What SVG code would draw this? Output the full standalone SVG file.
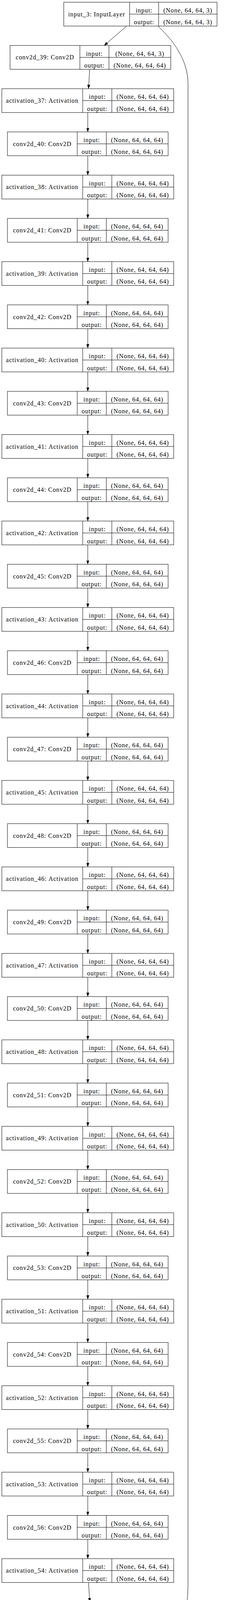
<svg xmlns="http://www.w3.org/2000/svg" width="605" height="4279" viewBox="0 0 605 4279">
<style>
.box{fill:#fff;stroke:#000;stroke-width:1}
.div{fill:none;stroke:#000;stroke-width:1}
text{font-family:"Liberation Serif","Times New Roman",serif;font-size:16px;letter-spacing:0.95px;text-anchor:middle;fill:#000}
.edge{fill:none;stroke:#000;stroke-width:1;marker-end:url(#arr)}
</style>
<defs>
<marker id="arr" markerUnits="userSpaceOnUse" markerWidth="10" markerHeight="7" viewBox="0 0 10 7" refX="0" refY="3.5" orient="auto">
<path d="M0,0L10,3.5L0,7z" fill="#000" stroke="#000" stroke-width="0.5"/>
</marker>
</defs>
<rect width="605" height="4279" fill="#fff"/>
<g id="edges">
<path class="edge" d="M324.7,66.7L274.7,109.9"/>
<path class="edge" d="M229.9,177.4L227.5,217.1"/>
<path class="edge" d="M225,288.1V327.7"/>
<path class="edge" d="M225,398.7V438.4"/>
<path class="edge" d="M225,509.4V549.1"/>
<path class="edge" d="M225,620.1V659.8"/>
<path class="edge" d="M225,730.8V770.5"/>
<path class="edge" d="M225,841.5V881.1"/>
<path class="edge" d="M225,952.1V991.8"/>
<path class="edge" d="M225,1062.8V1102.5"/>
<path class="edge" d="M225,1173.5V1213.2"/>
<path class="edge" d="M225,1284.2V1323.9"/>
<path class="edge" d="M225,1394.9V1434.5"/>
<path class="edge" d="M225,1505.5V1545.2"/>
<path class="edge" d="M225,1616.2V1655.9"/>
<path class="edge" d="M225,1726.9V1766.6"/>
<path class="edge" d="M225,1837.6V1877.3"/>
<path class="edge" d="M225,1948.3V1987.9"/>
<path class="edge" d="M225,2058.9V2098.6"/>
<path class="edge" d="M225,2169.6V2209.3"/>
<path class="edge" d="M225,2280.3V2320"/>
<path class="edge" d="M225,2391V2430.7"/>
<path class="edge" d="M225,2501.7V2541.3"/>
<path class="edge" d="M225,2612.3V2652"/>
<path class="edge" d="M225,2723V2762.7"/>
<path class="edge" d="M225,2833.7V2873.4"/>
<path class="edge" d="M225,2944.4V2984.1"/>
<path class="edge" d="M225,3055.1V3094.7"/>
<path class="edge" d="M225,3165.7V3205.4"/>
<path class="edge" d="M225,3276.4V3316.1"/>
<path class="edge" d="M225,3387.1V3426.8"/>
<path class="edge" d="M225,3497.8V3537.5"/>
<path class="edge" d="M225,3608.5V3648.1"/>
<path class="edge" d="M225,3719.1V3758.8"/>
<path class="edge" d="M225,3829.8V3869.5"/>
<path class="edge" d="M225,3940.5V3980.2"/>
<path class="edge" d="M226.9,4051.2L229.5,4090.9"/>
<path class="edge" d="M266.6,4161.9L315.3,4204.9"/>
<path class="edge" d="M405,66.7C440,100 482,150 482,215L482,4050C482,4140 465,4175 411.5,4204.5"/>
</g>
<g id="input_3" transform="translate(163.5,5.7)">
<rect class="box" width="392.8" height="61"/>
<path class="div" d="M168.8,0V61M243.2,0V61M168.8,30.5H392.8"/>
<text x="84.4" y="36">input_3: InputLayer</text>
<text x="206" y="26.2">input:</text>
<text x="206" y="56.7">output:</text>
<text x="318" y="26.2">(None, 64, 64, 3)</text>
<text x="318" y="56.7">(None, 64, 64, 3)</text>
</g>
<g id="conv2d_39" transform="translate(25.8,116.4)">
<rect class="box" width="412" height="61"/>
<path class="div" d="M179,0V61M253.5,0V61M179,30.5H412"/>
<text x="89.5" y="36">conv2d_39: Conv2D</text>
<text x="216.2" y="26.2">input:</text>
<text x="216.2" y="56.7">output:</text>
<text x="332.7" y="26.2">(None, 64, 64, 3)</text>
<text x="332.7" y="56.7">(None, 64, 64, 64)</text>
</g>
<g id="activation_37" transform="translate(4.7,227.1)">
<rect class="box" width="440.6" height="61"/>
<path class="div" d="M207.3,0V61M282,0V61M207.3,30.5H440.6"/>
<text x="103.6" y="36">activation_37: Activation</text>
<text x="244.6" y="26.2">input:</text>
<text x="244.6" y="56.7">output:</text>
<text x="361.3" y="26.2">(None, 64, 64, 64)</text>
<text x="361.3" y="56.7">(None, 64, 64, 64)</text>
</g>
<g id="conv2d_40" transform="translate(19,337.7)">
<rect class="box" width="412" height="61"/>
<path class="div" d="M179,0V61M253.5,0V61M179,30.5H412"/>
<text x="89.5" y="36">conv2d_40: Conv2D</text>
<text x="216.2" y="26.2">input:</text>
<text x="216.2" y="56.7">output:</text>
<text x="332.7" y="26.2">(None, 64, 64, 64)</text>
<text x="332.7" y="56.7">(None, 64, 64, 64)</text>
</g>
<g id="activation_38" transform="translate(4.7,448.4)">
<rect class="box" width="440.6" height="61"/>
<path class="div" d="M207.3,0V61M282,0V61M207.3,30.5H440.6"/>
<text x="103.6" y="36">activation_38: Activation</text>
<text x="244.6" y="26.2">input:</text>
<text x="244.6" y="56.7">output:</text>
<text x="361.3" y="26.2">(None, 64, 64, 64)</text>
<text x="361.3" y="56.7">(None, 64, 64, 64)</text>
</g>
<g id="conv2d_41" transform="translate(19,559.1)">
<rect class="box" width="412" height="61"/>
<path class="div" d="M179,0V61M253.5,0V61M179,30.5H412"/>
<text x="89.5" y="36">conv2d_41: Conv2D</text>
<text x="216.2" y="26.2">input:</text>
<text x="216.2" y="56.7">output:</text>
<text x="332.7" y="26.2">(None, 64, 64, 64)</text>
<text x="332.7" y="56.7">(None, 64, 64, 64)</text>
</g>
<g id="activation_39" transform="translate(4.7,669.8)">
<rect class="box" width="440.6" height="61"/>
<path class="div" d="M207.3,0V61M282,0V61M207.3,30.5H440.6"/>
<text x="103.6" y="36">activation_39: Activation</text>
<text x="244.6" y="26.2">input:</text>
<text x="244.6" y="56.7">output:</text>
<text x="361.3" y="26.2">(None, 64, 64, 64)</text>
<text x="361.3" y="56.7">(None, 64, 64, 64)</text>
</g>
<g id="conv2d_42" transform="translate(19,780.5)">
<rect class="box" width="412" height="61"/>
<path class="div" d="M179,0V61M253.5,0V61M179,30.5H412"/>
<text x="89.5" y="36">conv2d_42: Conv2D</text>
<text x="216.2" y="26.2">input:</text>
<text x="216.2" y="56.7">output:</text>
<text x="332.7" y="26.2">(None, 64, 64, 64)</text>
<text x="332.7" y="56.7">(None, 64, 64, 64)</text>
</g>
<g id="activation_40" transform="translate(4.7,891.1)">
<rect class="box" width="440.6" height="61"/>
<path class="div" d="M207.3,0V61M282,0V61M207.3,30.5H440.6"/>
<text x="103.6" y="36">activation_40: Activation</text>
<text x="244.6" y="26.2">input:</text>
<text x="244.6" y="56.7">output:</text>
<text x="361.3" y="26.2">(None, 64, 64, 64)</text>
<text x="361.3" y="56.7">(None, 64, 64, 64)</text>
</g>
<g id="conv2d_43" transform="translate(19,1001.8)">
<rect class="box" width="412" height="61"/>
<path class="div" d="M179,0V61M253.5,0V61M179,30.5H412"/>
<text x="89.5" y="36">conv2d_43: Conv2D</text>
<text x="216.2" y="26.2">input:</text>
<text x="216.2" y="56.7">output:</text>
<text x="332.7" y="26.2">(None, 64, 64, 64)</text>
<text x="332.7" y="56.7">(None, 64, 64, 64)</text>
</g>
<g id="activation_41" transform="translate(4.7,1112.5)">
<rect class="box" width="440.6" height="61"/>
<path class="div" d="M207.3,0V61M282,0V61M207.3,30.5H440.6"/>
<text x="103.6" y="36">activation_41: Activation</text>
<text x="244.6" y="26.2">input:</text>
<text x="244.6" y="56.7">output:</text>
<text x="361.3" y="26.2">(None, 64, 64, 64)</text>
<text x="361.3" y="56.7">(None, 64, 64, 64)</text>
</g>
<g id="conv2d_44" transform="translate(19,1223.2)">
<rect class="box" width="412" height="61"/>
<path class="div" d="M179,0V61M253.5,0V61M179,30.5H412"/>
<text x="89.5" y="36">conv2d_44: Conv2D</text>
<text x="216.2" y="26.2">input:</text>
<text x="216.2" y="56.7">output:</text>
<text x="332.7" y="26.2">(None, 64, 64, 64)</text>
<text x="332.7" y="56.7">(None, 64, 64, 64)</text>
</g>
<g id="activation_42" transform="translate(4.7,1333.9)">
<rect class="box" width="440.6" height="61"/>
<path class="div" d="M207.3,0V61M282,0V61M207.3,30.5H440.6"/>
<text x="103.6" y="36">activation_42: Activation</text>
<text x="244.6" y="26.2">input:</text>
<text x="244.6" y="56.7">output:</text>
<text x="361.3" y="26.2">(None, 64, 64, 64)</text>
<text x="361.3" y="56.7">(None, 64, 64, 64)</text>
</g>
<g id="conv2d_45" transform="translate(19,1444.5)">
<rect class="box" width="412" height="61"/>
<path class="div" d="M179,0V61M253.5,0V61M179,30.5H412"/>
<text x="89.5" y="36">conv2d_45: Conv2D</text>
<text x="216.2" y="26.2">input:</text>
<text x="216.2" y="56.7">output:</text>
<text x="332.7" y="26.2">(None, 64, 64, 64)</text>
<text x="332.7" y="56.7">(None, 64, 64, 64)</text>
</g>
<g id="activation_43" transform="translate(4.7,1555.2)">
<rect class="box" width="440.6" height="61"/>
<path class="div" d="M207.3,0V61M282,0V61M207.3,30.5H440.6"/>
<text x="103.6" y="36">activation_43: Activation</text>
<text x="244.6" y="26.2">input:</text>
<text x="244.6" y="56.7">output:</text>
<text x="361.3" y="26.2">(None, 64, 64, 64)</text>
<text x="361.3" y="56.7">(None, 64, 64, 64)</text>
</g>
<g id="conv2d_46" transform="translate(19,1665.9)">
<rect class="box" width="412" height="61"/>
<path class="div" d="M179,0V61M253.5,0V61M179,30.5H412"/>
<text x="89.5" y="36">conv2d_46: Conv2D</text>
<text x="216.2" y="26.2">input:</text>
<text x="216.2" y="56.7">output:</text>
<text x="332.7" y="26.2">(None, 64, 64, 64)</text>
<text x="332.7" y="56.7">(None, 64, 64, 64)</text>
</g>
<g id="activation_44" transform="translate(4.7,1776.6)">
<rect class="box" width="440.6" height="61"/>
<path class="div" d="M207.3,0V61M282,0V61M207.3,30.5H440.6"/>
<text x="103.6" y="36">activation_44: Activation</text>
<text x="244.6" y="26.2">input:</text>
<text x="244.6" y="56.7">output:</text>
<text x="361.3" y="26.2">(None, 64, 64, 64)</text>
<text x="361.3" y="56.7">(None, 64, 64, 64)</text>
</g>
<g id="conv2d_47" transform="translate(19,1887.3)">
<rect class="box" width="412" height="61"/>
<path class="div" d="M179,0V61M253.5,0V61M179,30.5H412"/>
<text x="89.5" y="36">conv2d_47: Conv2D</text>
<text x="216.2" y="26.2">input:</text>
<text x="216.2" y="56.7">output:</text>
<text x="332.7" y="26.2">(None, 64, 64, 64)</text>
<text x="332.7" y="56.7">(None, 64, 64, 64)</text>
</g>
<g id="activation_45" transform="translate(4.7,1997.9)">
<rect class="box" width="440.6" height="61"/>
<path class="div" d="M207.3,0V61M282,0V61M207.3,30.5H440.6"/>
<text x="103.6" y="36">activation_45: Activation</text>
<text x="244.6" y="26.2">input:</text>
<text x="244.6" y="56.7">output:</text>
<text x="361.3" y="26.2">(None, 64, 64, 64)</text>
<text x="361.3" y="56.7">(None, 64, 64, 64)</text>
</g>
<g id="conv2d_48" transform="translate(19,2108.6)">
<rect class="box" width="412" height="61"/>
<path class="div" d="M179,0V61M253.5,0V61M179,30.5H412"/>
<text x="89.5" y="36">conv2d_48: Conv2D</text>
<text x="216.2" y="26.2">input:</text>
<text x="216.2" y="56.7">output:</text>
<text x="332.7" y="26.2">(None, 64, 64, 64)</text>
<text x="332.7" y="56.7">(None, 64, 64, 64)</text>
</g>
<g id="activation_46" transform="translate(4.7,2219.3)">
<rect class="box" width="440.6" height="61"/>
<path class="div" d="M207.3,0V61M282,0V61M207.3,30.5H440.6"/>
<text x="103.6" y="36">activation_46: Activation</text>
<text x="244.6" y="26.2">input:</text>
<text x="244.6" y="56.7">output:</text>
<text x="361.3" y="26.2">(None, 64, 64, 64)</text>
<text x="361.3" y="56.7">(None, 64, 64, 64)</text>
</g>
<g id="conv2d_49" transform="translate(19,2330)">
<rect class="box" width="412" height="61"/>
<path class="div" d="M179,0V61M253.5,0V61M179,30.5H412"/>
<text x="89.5" y="36">conv2d_49: Conv2D</text>
<text x="216.2" y="26.2">input:</text>
<text x="216.2" y="56.7">output:</text>
<text x="332.7" y="26.2">(None, 64, 64, 64)</text>
<text x="332.7" y="56.7">(None, 64, 64, 64)</text>
</g>
<g id="activation_47" transform="translate(4.7,2440.7)">
<rect class="box" width="440.6" height="61"/>
<path class="div" d="M207.3,0V61M282,0V61M207.3,30.5H440.6"/>
<text x="103.6" y="36">activation_47: Activation</text>
<text x="244.6" y="26.2">input:</text>
<text x="244.6" y="56.7">output:</text>
<text x="361.3" y="26.2">(None, 64, 64, 64)</text>
<text x="361.3" y="56.7">(None, 64, 64, 64)</text>
</g>
<g id="conv2d_50" transform="translate(19,2551.3)">
<rect class="box" width="412" height="61"/>
<path class="div" d="M179,0V61M253.5,0V61M179,30.5H412"/>
<text x="89.5" y="36">conv2d_50: Conv2D</text>
<text x="216.2" y="26.2">input:</text>
<text x="216.2" y="56.7">output:</text>
<text x="332.7" y="26.2">(None, 64, 64, 64)</text>
<text x="332.7" y="56.7">(None, 64, 64, 64)</text>
</g>
<g id="activation_48" transform="translate(4.7,2662)">
<rect class="box" width="440.6" height="61"/>
<path class="div" d="M207.3,0V61M282,0V61M207.3,30.5H440.6"/>
<text x="103.6" y="36">activation_48: Activation</text>
<text x="244.6" y="26.2">input:</text>
<text x="244.6" y="56.7">output:</text>
<text x="361.3" y="26.2">(None, 64, 64, 64)</text>
<text x="361.3" y="56.7">(None, 64, 64, 64)</text>
</g>
<g id="conv2d_51" transform="translate(19,2772.7)">
<rect class="box" width="412" height="61"/>
<path class="div" d="M179,0V61M253.5,0V61M179,30.5H412"/>
<text x="89.5" y="36">conv2d_51: Conv2D</text>
<text x="216.2" y="26.2">input:</text>
<text x="216.2" y="56.7">output:</text>
<text x="332.7" y="26.2">(None, 64, 64, 64)</text>
<text x="332.7" y="56.7">(None, 64, 64, 64)</text>
</g>
<g id="activation_49" transform="translate(4.7,2883.4)">
<rect class="box" width="440.6" height="61"/>
<path class="div" d="M207.3,0V61M282,0V61M207.3,30.5H440.6"/>
<text x="103.6" y="36">activation_49: Activation</text>
<text x="244.6" y="26.2">input:</text>
<text x="244.6" y="56.7">output:</text>
<text x="361.3" y="26.2">(None, 64, 64, 64)</text>
<text x="361.3" y="56.7">(None, 64, 64, 64)</text>
</g>
<g id="conv2d_52" transform="translate(19,2994.1)">
<rect class="box" width="412" height="61"/>
<path class="div" d="M179,0V61M253.5,0V61M179,30.5H412"/>
<text x="89.5" y="36">conv2d_52: Conv2D</text>
<text x="216.2" y="26.2">input:</text>
<text x="216.2" y="56.7">output:</text>
<text x="332.7" y="26.2">(None, 64, 64, 64)</text>
<text x="332.7" y="56.7">(None, 64, 64, 64)</text>
</g>
<g id="activation_50" transform="translate(4.7,3104.7)">
<rect class="box" width="440.6" height="61"/>
<path class="div" d="M207.3,0V61M282,0V61M207.3,30.5H440.6"/>
<text x="103.6" y="36">activation_50: Activation</text>
<text x="244.6" y="26.2">input:</text>
<text x="244.6" y="56.7">output:</text>
<text x="361.3" y="26.2">(None, 64, 64, 64)</text>
<text x="361.3" y="56.7">(None, 64, 64, 64)</text>
</g>
<g id="conv2d_53" transform="translate(19,3215.4)">
<rect class="box" width="412" height="61"/>
<path class="div" d="M179,0V61M253.5,0V61M179,30.5H412"/>
<text x="89.5" y="36">conv2d_53: Conv2D</text>
<text x="216.2" y="26.2">input:</text>
<text x="216.2" y="56.7">output:</text>
<text x="332.7" y="26.2">(None, 64, 64, 64)</text>
<text x="332.7" y="56.7">(None, 64, 64, 64)</text>
</g>
<g id="activation_51" transform="translate(4.7,3326.1)">
<rect class="box" width="440.6" height="61"/>
<path class="div" d="M207.3,0V61M282,0V61M207.3,30.5H440.6"/>
<text x="103.6" y="36">activation_51: Activation</text>
<text x="244.6" y="26.2">input:</text>
<text x="244.6" y="56.7">output:</text>
<text x="361.3" y="26.2">(None, 64, 64, 64)</text>
<text x="361.3" y="56.7">(None, 64, 64, 64)</text>
</g>
<g id="conv2d_54" transform="translate(19,3436.8)">
<rect class="box" width="412" height="61"/>
<path class="div" d="M179,0V61M253.5,0V61M179,30.5H412"/>
<text x="89.5" y="36">conv2d_54: Conv2D</text>
<text x="216.2" y="26.2">input:</text>
<text x="216.2" y="56.7">output:</text>
<text x="332.7" y="26.2">(None, 64, 64, 64)</text>
<text x="332.7" y="56.7">(None, 64, 64, 64)</text>
</g>
<g id="activation_52" transform="translate(4.7,3547.5)">
<rect class="box" width="440.6" height="61"/>
<path class="div" d="M207.3,0V61M282,0V61M207.3,30.5H440.6"/>
<text x="103.6" y="36">activation_52: Activation</text>
<text x="244.6" y="26.2">input:</text>
<text x="244.6" y="56.7">output:</text>
<text x="361.3" y="26.2">(None, 64, 64, 64)</text>
<text x="361.3" y="56.7">(None, 64, 64, 64)</text>
</g>
<g id="conv2d_55" transform="translate(19,3658.1)">
<rect class="box" width="412" height="61"/>
<path class="div" d="M179,0V61M253.5,0V61M179,30.5H412"/>
<text x="89.5" y="36">conv2d_55: Conv2D</text>
<text x="216.2" y="26.2">input:</text>
<text x="216.2" y="56.7">output:</text>
<text x="332.7" y="26.2">(None, 64, 64, 64)</text>
<text x="332.7" y="56.7">(None, 64, 64, 64)</text>
</g>
<g id="activation_53" transform="translate(4.7,3768.8)">
<rect class="box" width="440.6" height="61"/>
<path class="div" d="M207.3,0V61M282,0V61M207.3,30.5H440.6"/>
<text x="103.6" y="36">activation_53: Activation</text>
<text x="244.6" y="26.2">input:</text>
<text x="244.6" y="56.7">output:</text>
<text x="361.3" y="26.2">(None, 64, 64, 64)</text>
<text x="361.3" y="56.7">(None, 64, 64, 64)</text>
</g>
<g id="conv2d_56" transform="translate(19,3879.5)">
<rect class="box" width="412" height="61"/>
<path class="div" d="M179,0V61M253.5,0V61M179,30.5H412"/>
<text x="89.5" y="36">conv2d_56: Conv2D</text>
<text x="216.2" y="26.2">input:</text>
<text x="216.2" y="56.7">output:</text>
<text x="332.7" y="26.2">(None, 64, 64, 64)</text>
<text x="332.7" y="56.7">(None, 64, 64, 64)</text>
</g>
<g id="activation_54" transform="translate(4.7,3990.2)">
<rect class="box" width="440.6" height="61"/>
<path class="div" d="M207.3,0V61M282,0V61M207.3,30.5H440.6"/>
<text x="103.6" y="36">activation_54: Activation</text>
<text x="244.6" y="26.2">input:</text>
<text x="244.6" y="56.7">output:</text>
<text x="361.3" y="26.2">(None, 64, 64, 64)</text>
<text x="361.3" y="56.7">(None, 64, 64, 64)</text>
</g>
<g id="conv2d_57" transform="translate(26,4100.9)">
<rect class="box" width="412" height="61"/>
<path class="div" d="M179,0V61M253.5,0V61M179,30.5H412"/>
<text x="89.5" y="36">conv2d_57: Conv2D</text>
<text x="216.2" y="26.2">input:</text>
<text x="216.2" y="56.7">output:</text>
<text x="332.7" y="26.2">(None, 64, 64, 64)</text>
<text x="332.7" y="56.7">(None, 64, 64, 3)</text>
</g>
<g id="add_3" transform="translate(115.7,4211.5)">
<rect class="box" width="483.3" height="61"/>
<path class="div" d="M110.3,0V61M185.6,0V61M110.3,30.5H483.3"/>
<text x="55.2" y="36">add_3: Add</text>
<text x="148" y="26.2">input:</text>
<text x="148" y="56.7">output:</text>
<text x="334.5" y="26.2">[(None, 64, 64, 3), (None, 64, 64, 3)]</text>
<text x="334.5" y="56.7">(None, 64, 64, 3)</text>
</g>
</svg>
